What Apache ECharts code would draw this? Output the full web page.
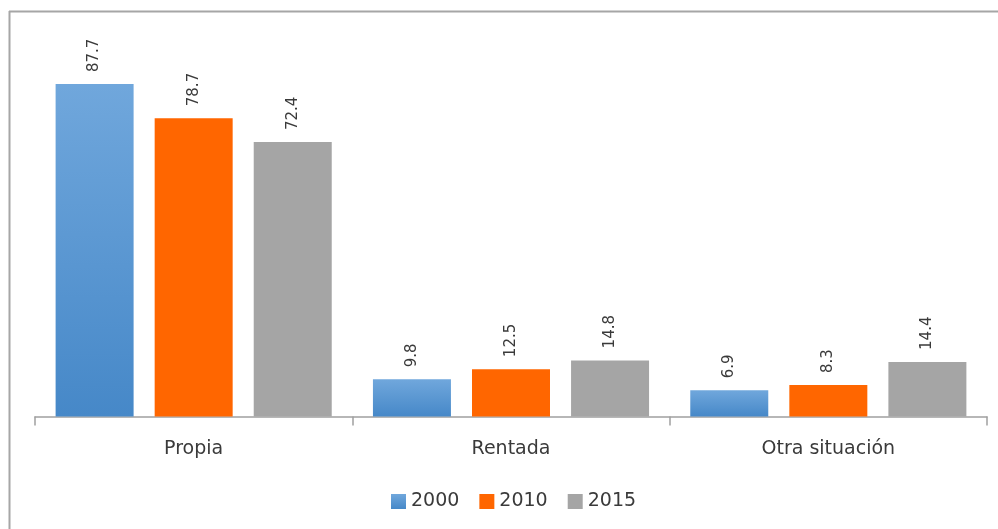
<!DOCTYPE html>
<html>
<head>
<meta charset="utf-8">
<script src="https://cdn.jsdelivr.net/npm/echarts@6/dist/echarts.min.js"></script>
<style>
  html, body { margin: 0; padding: 0; background: #fff; }
  #chart { width: 998px; height: 529px; }
</style>
</head>
<body>
<div id="chart"></div>
<script>
const categories = ['Propia', 'Rentada', 'Otra situación']
const years = ['2000', '2010', '2015']
const values2000 = [87.7, 9.8, 6.9]
const values2010 = [78.7, 12.5, 8.3]
const values2015 = [72.4, 14.8, 14.4]

const chart = echarts.init(document.getElementById('chart'))
const textColor = '#3a3a3a'
const fontFamily = 'DejaVu Sans'
const borderColor = '#a6a6a6'

// etiqueta girada encima de cada barra
const barLabel = {
  show: true,
  position: 'top',
  rotate: 90,
  align: 'left',
  verticalAlign: 'middle',
  distance: 12,
  color: textColor,
  fontFamily: fontFamily,
  fontSize: 15
}

const makeSeries = (name, data, color) => ({
  name: name,
  type: 'bar',
  data: data,
  barWidth: 78,
  barGap: '27%',
  itemStyle: { color: color },
  label: barLabel
})

chart.setOption({
  animation: false,
  // marco del gráfico (solo borde superior e izquierdo visibles)
  graphic: [
    {
      type: 'line',
      shape: { x1: 9, y1: 11.5, x2: 998, y2: 11.5 },
      style: { stroke: borderColor, lineWidth: 2 },
      silent: true
    },
    {
      type: 'line',
      shape: { x1: 9.5, y1: 11, x2: 9.5, y2: 529 },
      style: { stroke: borderColor, lineWidth: 2 },
      silent: true
    }
  ],
  legend: {
    data: years,
    left: 386,
    top: 487,
    icon: 'rect',
    itemWidth: 15,
    itemHeight: 15,
    itemGap: 20,
    textStyle: { color: textColor, fontFamily: fontFamily, fontSize: 19 }
  },
  grid: {
    left: 35,
    right: 11,
    top: 37.5,
    bottom: 112.5
  },
  xAxis: {
    type: 'category',
    data: categories,
    axisLine: { lineStyle: { color: '#a0a0a0', width: 1.5 } },
    axisTick: { show: true, alignWithLabel: false, length: 9, lineStyle: { color: '#a0a0a0', width: 1.5 } },
    axisLabel: { color: textColor, fontFamily: fontFamily, fontSize: 19, margin: 23 }
  },
  yAxis: {
    type: 'value',
    min: 0,
    max: 100,
    show: false
  },
  series: [
    makeSeries(years[0], values2000, new echarts.graphic.LinearGradient(0, 0, 0, 1, [
      { offset: 0, color: '#70a7dc' },
      { offset: 1, color: '#4688c8' }
    ])),
    makeSeries(years[1], values2010, '#ff6600'),
    makeSeries(years[2], values2015, '#a5a5a5')
  ]
})
</script>
</body>
</html>
